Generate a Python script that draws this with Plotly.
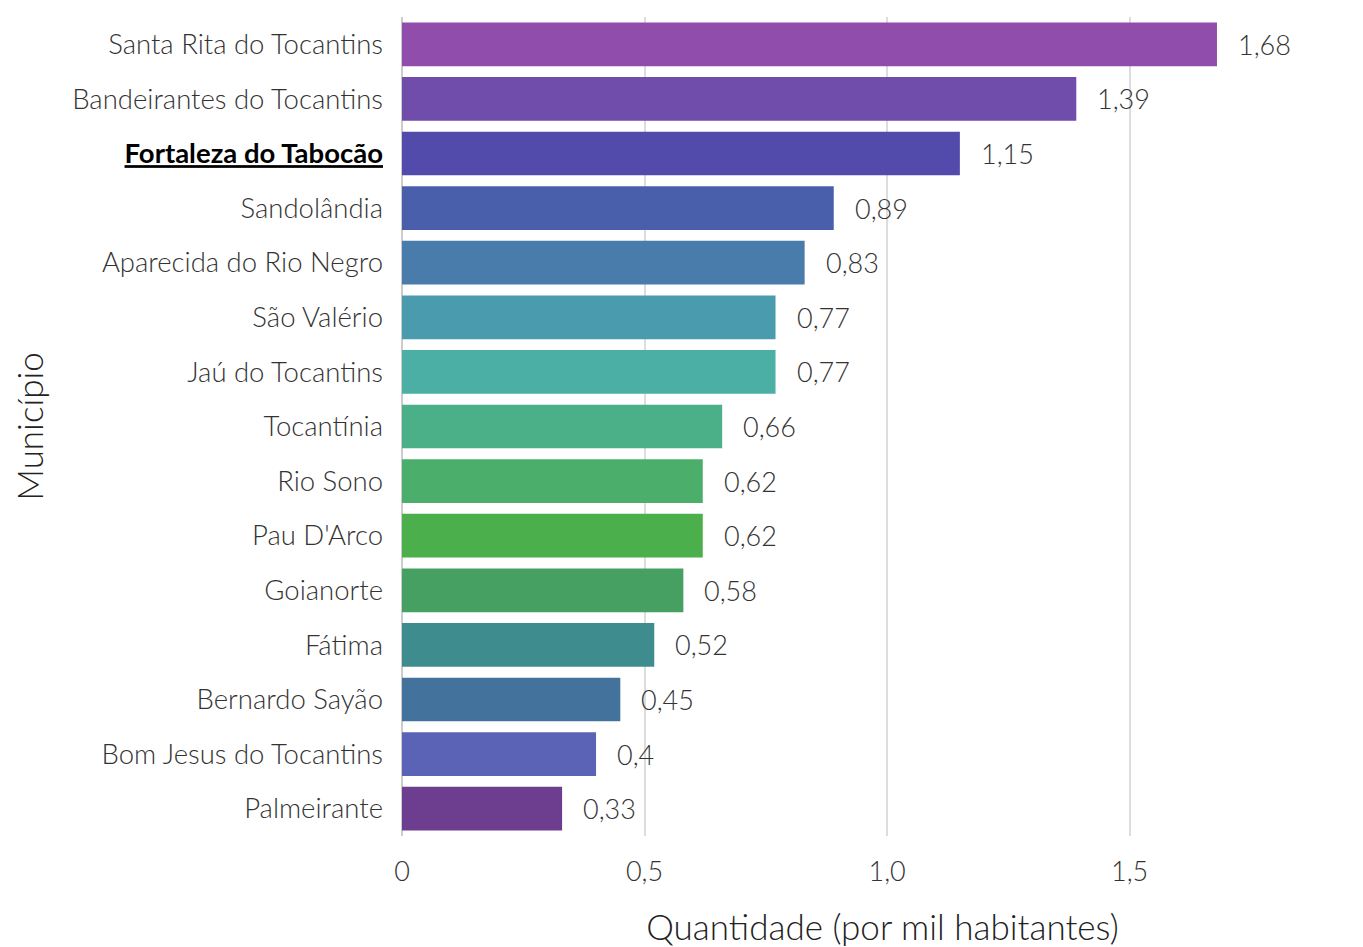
import plotly.graph_objects as go

municipios = [
    "Santa Rita do Tocantins", "Bandeirantes do Tocantins", "Fortaleza do Tabocão",
    "Sandolândia", "Aparecida do Rio Negro", "São Valério", "Jaú do Tocantins",
    "Tocantínia", "Rio Sono", "Pau D'Arco", "Goianorte", "Fátima",
    "Bernardo Sayão", "Bom Jesus do Tocantins", "Palmeirante",
]
valores = [1.68, 1.39, 1.15, 0.89, 0.83, 0.77, 0.77, 0.66, 0.62, 0.62, 0.58, 0.52, 0.45, 0.40, 0.33]
cores = [
    "#914DAB", "#714DAB", "#534BAB", "#4A5FAB", "#4A7CAB", "#4A9BAE", "#4BAFA5",
    "#4BB088", "#4BAF6B", "#4BAF4B", "#45A062", "#3F8C8F", "#43739D", "#5A63B5", "#6D3E8F",
]
destaque = "Fortaleza do Tabocão"
x_ticks = [0, 0.5, 1.0, 1.5]
x_ticklabels = ["0", "0,5", "1,0", "1,5"]

FONT = "Lato"
TXT = "#333333"


def fmt(v):
    s = f"{v:.2f}".rstrip("0").rstrip(".")
    return s.replace(".", ",")


ticktext = [
    f"<span style='color:#000000;font-weight:700'><b><u>{m}</u></b></span>" if m == destaque else m
    for m in municipios
]

fig = go.Figure(
    go.Bar(
        x=valores,
        y=municipios,
        orientation="h",
        marker=dict(color=cores, line=dict(width=0)),
        width=0.8,
        hoverinfo="x+y",
    )
)

for m, v in zip(municipios, valores):
    fig.add_annotation(
        x=v, y=m, text=fmt(v), showarrow=False, xanchor="left", xshift=19,
        font=dict(family=FONT, size=27, color=TXT, weight=300),
    )

# the page body adds an 8px offset, so the figure is sized to fill the window
fig.update_layout(
    width=1355,
    height=939,
    margin=dict(l=394, r=0, t=9, b=111),
    plot_bgcolor="white",
    paper_bgcolor="white",
    font=dict(family=FONT, size=27, color=TXT, weight=300),
    showlegend=False,
    bargap=0.2,
)
fig.update_xaxes(
    range=[0, 1.981],
    automargin=False,
    tickvals=x_ticks,
    ticktext=x_ticklabels,
    showgrid=True,
    gridcolor="#dddddd",
    gridwidth=1.5,
    zeroline=True,
    zerolinecolor="#cccccc",
    zerolinewidth=2,
    showline=False,
    ticks="",
    ticklabelstandoff=17,
    tickfont=dict(family=FONT, size=27, color=TXT, weight=300),
    title=dict(
        text="Quantidade (por mil habitantes)",
        font=dict(family=FONT, size=35, color="#222222", weight=300),
        standoff=34,
    ),
)
fig.update_yaxes(
    categoryorder="array",
    categoryarray=municipios,
    autorange="reversed",
    automargin=False,
    tickvals=municipios,
    ticktext=ticktext,
    ticks="",
    ticklabelstandoff=18,
    showgrid=False,
    tickfont=dict(family=FONT, size=27.5, color=TXT, weight=300),
    title=dict(
        text="Município",
        font=dict(family=FONT, size=35, color="#222222", weight=300),
        standoff=28,
    ),
)

fig.write_html("out.html")
